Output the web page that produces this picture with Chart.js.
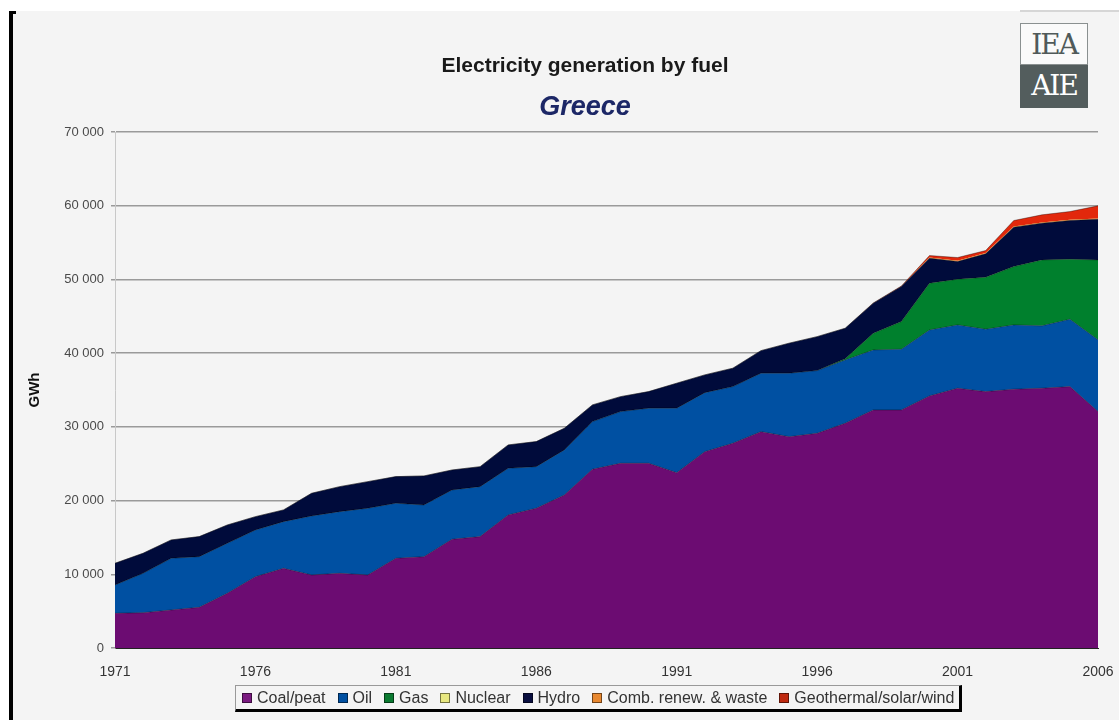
<!DOCTYPE html>
<html>
<head>
<meta charset="utf-8">
<script src="https://cdn.jsdelivr.net/npm/chart.js"></script>
<style>
  body { margin: 0; width: 1119px; height: 720px; background: #fff; position: relative; overflow: hidden; font-family: "Liberation Sans", Arial, sans-serif; }
  .panel { position: absolute; left: 13px; top: 11px; right: 0; bottom: 0; background: #f4f4f4; }
  .edge { position: absolute; left: 9px; top: 11px; width: 4px; height: 709px; background: #000; }
  .edge-top { position: absolute; left: 9px; top: 11px; width: 7px; height: 3px; background: #000; }
  .topline { position: absolute; left: 1020px; top: 10px; width: 99px; height: 2px; background: #d6d6d6; }
  #chart { position: absolute; left: 0; top: 0; }
  .title { position: absolute; left: 385px; width: 400px; text-align: center; line-height: normal; }
  .t1 { top: 53px; font-size: 21px; font-weight: bold; color: #1a1a1a; }
  .t2 { top: 91px; font-size: 27px; font-weight: bold; font-style: italic; color: #1c2766; }
  .logo { position: absolute; left: 1020px; top: 23px; width: 68px; height: 85px; }
  .logo div { height: 42px; text-align: center; font-family: "DejaVu Serif", serif; font-size: 28px; line-height: 42px; letter-spacing: -2px; }
  .logo .up { background: #fafafa; color: #505a5a; border: 1px solid #8a9090; box-sizing: border-box; }
  .logo .down { background: #535d5d; color: #fff; height: 43px; }
  .legend { position: absolute; left: 235px; top: 685px; width: 717px; height: 23px; border-top: 1px solid #999; border-left: 1px solid #999; border-right: 3px solid #000; border-bottom: 3px solid #000; display: flex; align-items: center; padding-left: 6px; box-sizing: content-box; font-size: 16px; color: #333; white-space: nowrap; }
  .legend span.sw { display: inline-block; width: 8px; height: 8px; border: 1px solid rgba(0,0,0,0.5); margin-right: 5px; }
  .legend .item { display: flex; align-items: center; margin-right: 12px; }
</style>
</head>
<body>
<div class="panel"></div>
<div class="edge"></div>
<div class="edge-top"></div>
<div class="topline"></div>
<canvas id="chart" width="1119" height="720"></canvas>
<div class="title t1">Electricity generation by fuel</div>
<div class="title t2">Greece</div>
<div class="logo"><div class="up">IEA</div><div class="down">AIE</div></div>
<div class="legend" id="legend"></div>
<script>
// GWh per year, 1971-2006
const years = ["1971","1972","1973","1974","1975","1976","1977","1978","1979","1980",
  "1981","1982","1983","1984","1985","1986","1987","1988","1989","1990",
  "1991","1992","1993","1994","1995","1996","1997","1998","1999","2000",
  "2001","2002","2003","2004","2005","2006"];

const coal = [4710, 4790, 5160, 5520, 7420, 9680, 10810, 9910, 10130, 9910,
  12170, 12390, 14750, 15110, 18050, 18960, 20760, 24250, 25060, 25060,
  23790, 26640, 27780, 29350, 28670, 29130, 30490, 32300, 32300, 34200,
  35240, 34780, 35110, 35240, 35460, 32070];

const oil = [3840, 5340, 7010, 6870, 6790, 6330, 6330, 8000, 8370, 9050,
  7470, 7010, 6690, 6780, 6330, 5640, 6110, 6460, 7010, 7470,
  8740, 8000, 7680, 7930, 8610, 8500, 8590, 8140, 8230, 8950,
  8590, 8470, 8720, 8460, 9140, 9730];

const gas = [0, 0, 0, 0, 0, 0, 0, 0, 0, 0,
  0, 0, 0, 0, 0, 0, 0, 0, 0, 0,
  0, 0, 0, 0, 0, 0, 150, 2260, 3750, 6340,
  6200, 7050, 7910, 8950, 8140, 10850];

const nuclear = years.map(() => 0);

const hydro = [2940, 2720, 2490, 2720, 2480, 1810, 1590, 3080, 3390, 3610,
  3610, 3940, 2710, 2710, 3170, 3400, 2940, 2270, 2030, 2250,
  3390, 2410, 2500, 3060, 4070, 4610, 4150, 4070, 4750, 3390,
  2390, 3170, 5350, 4980, 5250, 5520];

const combRenew = [0, 0, 0, 0, 0, 0, 0, 0, 0, 0,
  0, 0, 0, 0, 0, 0, 0, 0, 0, 0,
  0, 0, 0, 0, 0, 0, 0, 0, 0, 100,
  100, 100, 100, 100, 100, 100];

const geoSolarWind = [0, 0, 0, 0, 0, 0, 0, 0, 0, 0,
  0, 0, 0, 0, 0, 0, 0, 0, 0, 0,
  0, 0, 0, 0, 0, 0, 0, 40, 80, 260,
  450, 350, 800, 1030, 1120, 1710];

const yTicks = [0, 10000, 20000, 30000, 40000, 50000, 60000, 70000];

const seriesNames = ["Coal/peat", "Oil", "Gas", "Nuclear", "Hydro", "Comb. renew. & waste", "Geothermal/solar/wind"];
const seriesData = [coal, oil, gas, nuclear, hydro, combRenew, geoSolarWind];
const fillColors = ["#6c0c72", "#0050a2", "#00802d", "#e6e67a", "#000b3b", "#f08a24", "#e2280c"];
const swatchColors = ["#7a1a80", "#0050a2", "#0a7a30", "#e8e880", "#0a0f40", "#e88830", "#c02a10"];

const datasets = seriesNames.map((name, i) => ({
  label: name,
  data: seriesData[i],
  backgroundColor: fillColors[i],
  borderColor: (i === 3 || i === 5) ? fillColors[i] : "rgba(0,0,0,0.35)",
  borderWidth: (i === 3 || i === 5) ? 0 : 1,
  pointRadius: 0,
  tension: 0,
  fill: i === 0 ? "origin" : "-1"
}));

new Chart(document.getElementById("chart"), {
  type: "line",
  data: { labels: years, datasets: datasets },
  options: {
    responsive: false,
    animation: false,
    devicePixelRatio: 1,
    layout: { padding: { left: 0, right: 21, top: 132, bottom: 32 } },
    plugins: { legend: { display: false }, tooltip: { enabled: false } },
    scales: {
      x: {
        grid: { display: false, drawTicks: false },
        border: { display: true, color: "#222", width: 1 },
        ticks: {
          autoSkip: false,
          maxRotation: 0,
          padding: 16,
          color: "#333",
          font: { family: "Liberation Sans", size: 14 },
          callback: (v, i) => (i % 5 === 0 ? years[i] : "")
        },
        afterFit: (s) => { s.height = 40; s.paddingLeft = 0; s.paddingRight = 0; }
      },
      y: {
        stacked: true,
        min: 0,
        max: 70000,
        afterBuildTicks: (s) => { s.ticks = yTicks.map(v => ({ value: v })); },
        ticks: {
          padding: 7,
          color: "#4a4a4a",
          font: { family: "Liberation Sans", size: 13 },
          callback: (v) => (v === 0 ? "0" : (v / 1000) + " 000")
        },
        grid: { color: "#9a9a9a", lineWidth: 1.5, tickLength: 4 },
        border: { display: true, color: "#c8c8c8", width: 1 },
        title: {
          display: true,
          text: "GWh",
          color: "#111",
          font: { family: "Liberation Sans", size: 15, weight: "bold" },
          padding: { top: 26 }
        },
        afterFit: (s) => { s.width = 115; }
      }
    }
  }
});

// legend strip under the plot
const legend = document.getElementById("legend");
seriesNames.forEach((name, i) => {
  const item = document.createElement("div");
  item.className = "item";
  const sw = document.createElement("span");
  sw.className = "sw";
  sw.style.background = swatchColors[i];
  item.appendChild(sw);
  item.appendChild(document.createTextNode(name));
  legend.appendChild(item);
});
</script>
</body>
</html>
